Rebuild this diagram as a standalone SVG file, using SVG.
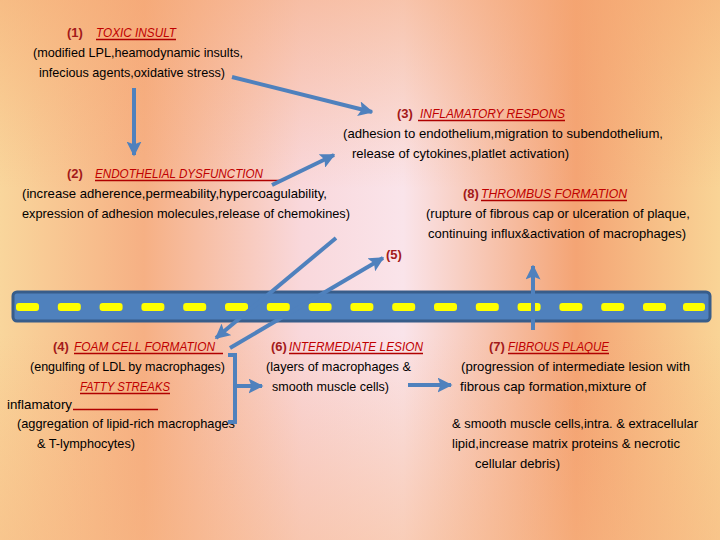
<svg xmlns="http://www.w3.org/2000/svg" width="720" height="540" viewBox="0 0 720 540">
<defs>
<linearGradient id="bgH" x1="0" y1="0" x2="1" y2="0">
<stop offset="0" stop-color="#F9D69C"/>
<stop offset="0.2" stop-color="#F6B084"/>
<stop offset="0.42" stop-color="#F9D8DC"/>
<stop offset="0.56" stop-color="#FAE4EA"/>
<stop offset="0.8" stop-color="#F4A474"/>
<stop offset="1" stop-color="#F9D496"/>
</linearGradient>
<linearGradient id="bgV" x1="0" y1="0" x2="0" y2="1">
<stop offset="0" stop-color="#F5A46E" stop-opacity="0.5"/>
<stop offset="0.35" stop-color="#F5A46E" stop-opacity="0"/>
<stop offset="0.62" stop-color="#F5A46E" stop-opacity="0"/>
<stop offset="1" stop-color="#F7B27C" stop-opacity="0.45"/>
</linearGradient>
<marker id="ah" viewBox="0 0 10 10" refX="9" refY="5" markerWidth="15" markerHeight="15" markerUnits="userSpaceOnUse" orient="auto">
<path d="M0,0 L10,5 L0,10 L2,5 z" fill="#4F81BD"/>
</marker>
<style>
.t{font-family:"Liberation Sans",Arial,sans-serif;font-size:13px;fill:#000}
.n{font-family:"Liberation Sans",Arial,sans-serif;font-size:13px;font-weight:bold;fill:#A31A1A}
.h{font-family:"Liberation Sans",Arial,sans-serif;font-size:13px;font-style:italic;fill:#C00000}
.u{stroke:#B00000;stroke-width:1.3}
.a{stroke:#4F81BD;stroke-width:4;fill:none}
.d{fill:#FFFF00}
</style>
</defs>
<rect width="720" height="540" fill="url(#bgH)"/>
<rect width="720" height="540" fill="url(#bgV)"/>

<g id="vessel">
<rect x="13" y="292" width="697" height="29" rx="4" fill="#4F81BD" stroke="#385D8A" stroke-width="3"/>
<g>
<rect class="d" x="16" y="303" width="23" height="8" rx="3"/>
<rect class="d" x="57.8" y="303" width="23" height="8" rx="3"/>
<rect class="d" x="99.6" y="303" width="23" height="8" rx="3"/>
<rect class="d" x="141.4" y="303" width="23" height="8" rx="3"/>
<rect class="d" x="183.2" y="303" width="23" height="8" rx="3"/>
<rect class="d" x="225" y="303" width="23" height="8" rx="3"/>
<rect class="d" x="266.8" y="303" width="23" height="8" rx="3"/>
<rect class="d" x="308.6" y="303" width="23" height="8" rx="3"/>
<rect class="d" x="350.4" y="303" width="23" height="8" rx="3"/>
<rect class="d" x="392.2" y="303" width="23" height="8" rx="3"/>
<rect class="d" x="434" y="303" width="23" height="8" rx="3"/>
<rect class="d" x="475.8" y="303" width="23" height="8" rx="3"/>
<rect class="d" x="517.6" y="303" width="23" height="8" rx="3"/>
<rect class="d" x="559.4" y="303" width="23" height="8" rx="3"/>
<rect class="d" x="601.2" y="303" width="23" height="8" rx="3"/>
<rect class="d" x="643" y="303" width="23" height="8" rx="3"/>
<rect class="d" x="683" y="303" width="22" height="8" rx="3"/>
</g>
</g>

<g id="n1">
<text class="n" x="67" y="37">(1)</text>
<text class="h" x="96" y="37" textLength="80" lengthAdjust="spacingAndGlyphs">TOXIC INSULT</text>
<line class="u" x1="96" y1="39.5" x2="176" y2="39.5"/>
<text class="t" x="33" y="57" textLength="210" lengthAdjust="spacingAndGlyphs">(modified LPL,heamodynamic insults,</text>
<text class="t" x="39" y="77" textLength="186" lengthAdjust="spacingAndGlyphs">infecious agents,oxidative stress)</text>
</g>

<g id="n3">
<text class="n" x="397" y="118">(3)</text>
<text class="h" x="420" y="118" textLength="145" lengthAdjust="spacingAndGlyphs">INFLAMATORY RESPONS</text>
<line class="u" x1="418" y1="120.5" x2="565" y2="120.5"/>
<text class="t" x="343" y="138" textLength="320" lengthAdjust="spacingAndGlyphs">(adhesion to endothelium,migration to subendothelium,</text>
<text class="t" x="352" y="158" textLength="217" lengthAdjust="spacingAndGlyphs">release of cytokines,platlet activation)</text>
</g>

<g id="n2">
<text class="n" x="67" y="178">(2)</text>
<text class="h" x="95" y="178" textLength="168" lengthAdjust="spacingAndGlyphs">ENDOTHELIAL DYSFUNCTION</text>
<line class="u" x1="95" y1="180.5" x2="281" y2="180.5"/>
<text class="t" x="22" y="198" textLength="305" lengthAdjust="spacingAndGlyphs">(increase adherence,permeability,hypercoagulability,</text>
<text class="t" x="22" y="218" textLength="328" lengthAdjust="spacingAndGlyphs">expression of adhesion molecules,release of chemokines)</text>
</g>

<g id="n8">
<text class="n" x="463" y="198">(8)</text>
<text class="h" x="481" y="198" textLength="146" lengthAdjust="spacingAndGlyphs">THROMBUS FORMATION</text>
<line class="u" x1="481" y1="200.5" x2="627" y2="200.5"/>
<text class="t" x="426" y="218" textLength="264" lengthAdjust="spacingAndGlyphs">(rupture of fibrous cap or ulceration of plaque,</text>
<text class="t" x="428" y="238" textLength="258" lengthAdjust="spacingAndGlyphs">continuing influx&amp;activation of macrophages)</text>
</g>

<g id="n5">
<text class="n" x="386" y="259">(5)</text>
</g>

<g id="n4">
<text class="n" x="53" y="351">(4)</text>
<text class="h" x="74" y="351" textLength="141" lengthAdjust="spacingAndGlyphs">FOAM CELL FORMATION</text>
<line class="u" x1="74" y1="353.5" x2="223" y2="353.5"/>
<text class="t" x="30" y="371" textLength="195" lengthAdjust="spacingAndGlyphs">(engulfing of LDL by macrophages)</text>
<text class="h" x="80" y="391" textLength="90" lengthAdjust="spacingAndGlyphs">FATTY STREAKS</text>
<line class="u" x1="80" y1="393.5" x2="170" y2="393.5"/>
<text class="t" x="7" y="409" textLength="65" lengthAdjust="spacingAndGlyphs">inflamatory</text>
<line class="u" x1="73" y1="409.5" x2="158" y2="409.5"/>
<text class="t" x="17" y="428" textLength="218" lengthAdjust="spacingAndGlyphs">(aggregation of lipid-rich macrophages</text>
<text class="t" x="37" y="448" textLength="98" lengthAdjust="spacingAndGlyphs">&amp; T-lymphocytes)</text>
</g>

<g id="n6">
<text class="n" x="271" y="351">(6)</text>
<text class="h" x="289" y="351" textLength="134" lengthAdjust="spacingAndGlyphs">INTERMEDIATE LESION</text>
<line class="u" x1="289" y1="353.5" x2="423" y2="353.5"/>
<text class="t" x="266" y="371" textLength="145" lengthAdjust="spacingAndGlyphs">(layers of macrophages &amp;</text>
<text class="t" x="272" y="391" textLength="117" lengthAdjust="spacingAndGlyphs">smooth muscle cells)</text>
</g>

<g id="n7">
<text class="n" x="489" y="351">(7)</text>
<text class="h" x="508" y="351" textLength="101" lengthAdjust="spacingAndGlyphs">FIBROUS PLAQUE</text>
<line class="u" x1="508" y1="353.5" x2="609" y2="353.5"/>
<text class="t" x="461" y="371" textLength="229" lengthAdjust="spacingAndGlyphs">(progression of intermediate lesion with</text>
<text class="t" x="460" y="391" textLength="186" lengthAdjust="spacingAndGlyphs">fibrous cap formation,mixture of</text>
<text class="t" x="452" y="428" textLength="246" lengthAdjust="spacingAndGlyphs">&amp; smooth muscle cells,intra. &amp; extracellular</text>
<text class="t" x="452" y="448" textLength="228" lengthAdjust="spacingAndGlyphs">lipid,increase matrix proteins &amp; necrotic</text>
<text class="t" x="475" y="468" textLength="85" lengthAdjust="spacingAndGlyphs">cellular debris)</text>
</g>

<g id="connectors">
<line class="a" x1="232" y1="77" x2="372" y2="112" marker-end="url(#ah)"/>
<line class="a" x1="134" y1="88" x2="134" y2="155" marker-end="url(#ah)"/>
<line class="a" x1="272" y1="185" x2="334" y2="155" marker-end="url(#ah)"/>
<line class="a" x1="336" y1="238" x2="216" y2="338" marker-end="url(#ah)"/>
<line class="a" x1="230" y1="348" x2="383" y2="258" marker-end="url(#ah)"/>
<path class="a" d="M228,355 H235 V422 H228"/>
<line class="a" x1="235" y1="386" x2="262" y2="386" marker-end="url(#ah)"/>
<line class="a" x1="408" y1="385" x2="451" y2="385" marker-end="url(#ah)"/>
<line class="a" x1="533" y1="330" x2="533" y2="266" marker-end="url(#ah)"/>
</g>
</svg>
